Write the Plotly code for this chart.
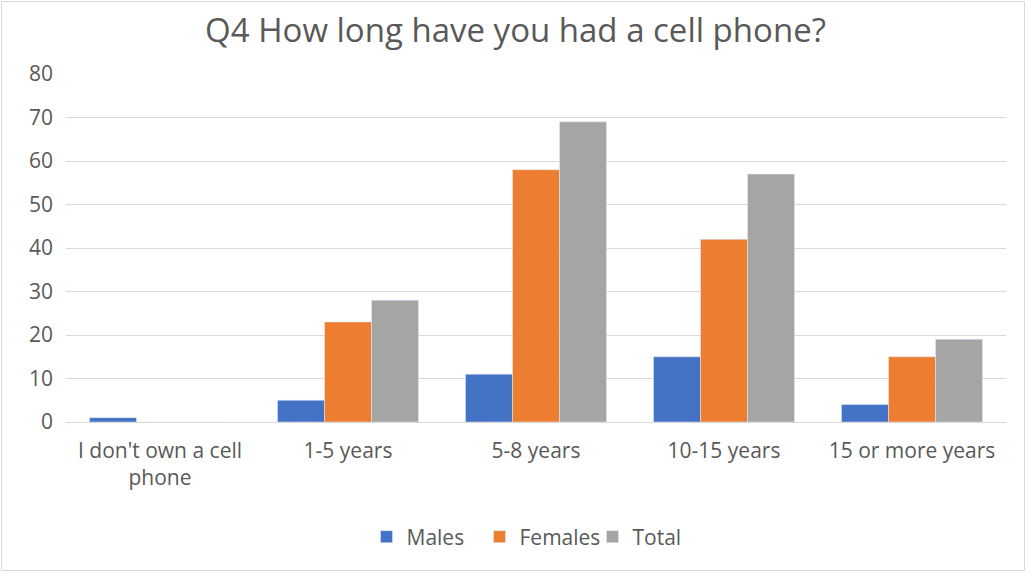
import plotly.graph_objects as go

categories = ["I don't own a cell<br>phone", "1-5 years", "5-8 years", "10-15 years", "15 or more years"]
males = [1, 5, 11, 15, 4]
females = [0, 23, 58, 42, 15]
total = [0, 28, 69, 57, 19]
y_ticks = [0, 10, 20, 30, 40, 50, 60, 70, 80]

W, H = 1031, 574
L, R, T, B = 66, 25, 74, 152
FONT = "Open Sans"
TXT = "#595959"

fig = go.Figure()
fig.add_bar(name="Males", x=categories, y=males, marker_color="#4472C4")
fig.add_bar(name="Females", x=categories, y=females, marker_color="#ED7D31")
fig.add_bar(name="Total", x=categories, y=total, marker_color="#A5A5A5")

pw = W - L - R
ph = H - T - B
def px_x(p):
    return (p - L) / pw
def px_y(p):
    return (H - B - p) / ph

fig.add_shape(type="rect", xref="paper", yref="paper",
              x0=px_x(1.5), x1=px_x(1024.5), y0=px_y(570.5), y1=px_y(1.5),
              line=dict(color="#D9D9D9", width=1), fillcolor="rgba(0,0,0,0)", layer="below")

fig.update_layout(
    width=W, height=H,
    margin=dict(l=L, r=R, t=T, b=B, autoexpand=False),
    paper_bgcolor="white", plot_bgcolor="white",
    barmode="group", bargap=0.25, bargroupgap=0,
    font=dict(family=FONT, color=TXT, size=21),
    title=dict(text="Q4 How long have you had a cell phone?", x=0.5, xanchor="center",
               y=1 - 30 / H, yanchor="middle", font=dict(size=33, color=TXT, family=FONT)),
    legend=dict(orientation="h", x=0.5, xanchor="center", y=px_y(537), yanchor="middle",
                font=dict(size=21, color=TXT, family=FONT), itemwidth=30, traceorder="normal",
                entrywidth=68, entrywidthmode="pixels"),
    showlegend=True,
)
fig.update_yaxes(range=[0, 80], tickvals=y_ticks, showgrid=True, gridcolor="#D9D9D9", gridwidth=1,
                 zeroline=True, zerolinecolor="#D9D9D9", zerolinewidth=1, showline=False,
                 ticks="", ticklabelstandoff=12, tickfont=dict(size=21, color=TXT))
fig.update_xaxes(showline=False, ticks="", tickfont=dict(size=21, color=TXT), ticklabelstandoff=14)

fig.write_html("out.html", config={"displayModeBar": False},
               post_script="document.body.style.margin='0';")
